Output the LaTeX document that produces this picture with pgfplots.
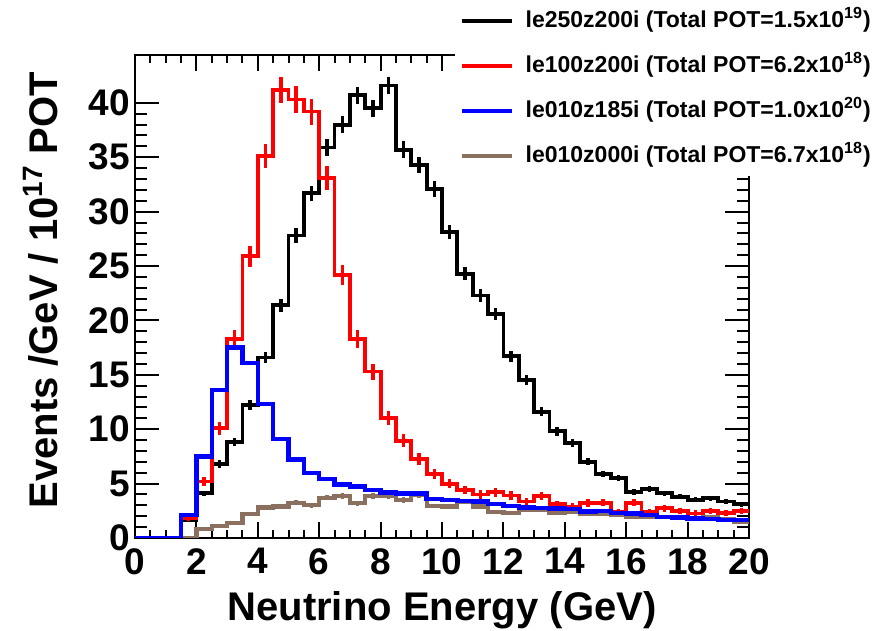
\documentclass[border=0pt]{standalone}
\usepackage{fontspec}
\setmainfont{Liberation Sans}
\usepackage{pgfplots}
\usepackage{pgfplotstable}
\pgfplotsset{compat=1.18}
\definecolor{rootbrown}{RGB}{140,112,95}
\definecolor{rootred}{RGB}{255,0,0}
\definecolor{rootblue}{RGB}{0,0,255}

% bin left edge, content, error (last row closes the step at 20 GeV)
\pgfplotstableread{
x y e
0.0 0 0
0.5 0 0
1.0 0 0
1.5 1.65 0.16
2.0 4.1 0.25
2.5 6.8 0.33
3.0 8.8 0.37
3.5 12.2 0.44
4.0 16.6 0.51
4.5 21.4 0.58
5.0 27.8 0.66
5.5 31.7 0.70
6.0 35.9 0.75
6.5 38.0 0.77
7.0 40.7 0.80
7.5 39.5 0.79
8.0 41.6 0.81
8.5 35.7 0.75
9.0 34.3 0.73
9.5 32.1 0.71
10.0 28.1 0.66
10.5 24.3 0.62
11.0 22.3 0.59
11.5 20.6 0.57
12.0 16.7 0.51
12.5 14.5 0.48
13.0 11.6 0.43
13.5 9.8 0.39
14.0 8.7 0.37
14.5 7.0 0.33
15.0 5.9 0.30
15.5 5.5 0.29
16.0 4.2 0.26
16.5 4.5 0.27
17.0 4.1 0.25
17.5 3.8 0.24
18.0 3.5 0.23
18.5 3.65 0.24
19.0 3.35 0.23
19.5 3.1 0.22
20.0 3.1 0
}\tabblack

\pgfplotstableread{
x y e
0.0 0 0
0.5 0 0
1.0 0 0
1.5 1.8 0.25
2.0 5.2 0.43
2.5 10.1 0.60
3.0 18.3 0.81
3.5 25.9 0.97
4.0 35.1 1.13
4.5 41.2 1.22
5.0 40.3 1.21
5.5 39.2 1.19
6.0 33.1 1.09
6.5 24.2 0.93
7.0 18.3 0.81
7.5 15.3 0.74
8.0 11.0 0.63
8.5 8.95 0.57
9.0 7.26 0.51
9.5 5.9 0.46
10.0 5.0 0.42
10.5 4.4 0.40
11.0 4.0 0.38
11.5 4.2 0.39
12.0 3.9 0.38
12.5 3.35 0.35
13.0 3.85 0.37
13.5 3.1 0.33
14.0 2.9 0.32
14.5 3.2 0.34
15.0 3.25 0.34
15.5 2.4 0.29
16.0 3.25 0.34
16.5 2.4 0.29
17.0 2.75 0.32
17.5 2.5 0.30
18.0 2.25 0.29
18.5 2.5 0.30
19.0 2.3 0.29
19.5 2.5 0.30
20.0 2.5 0
}\tabred

\pgfplotstableread{
x y
0.0 0
0.5 0
1.0 0
1.5 2.1
2.0 7.5
2.5 13.6
3.0 17.5
3.5 16.1
4.0 12.3
4.5 9.1
5.0 7.2
5.5 6.0
6.0 5.4
6.5 4.9
7.0 4.75
7.5 4.4
8.0 4.2
8.5 4.1
9.0 4.1
9.5 3.6
10.0 3.5
10.5 3.4
11.0 3.35
11.5 3.1
12.0 2.95
12.5 2.8
13.0 2.75
13.5 2.7
14.0 2.65
14.5 2.45
15.0 2.5
15.5 2.3
16.0 2.25
16.5 2.1
17.0 1.95
17.5 1.9
18.0 1.8
18.5 1.75
19.0 1.65
19.5 1.65
20.0 1.65
}\tabblue

\pgfplotstableread{
x y e
0.0 0 0
0.5 0 0
1.0 0 0
1.5 0 0
2.0 0.8 0.12
2.5 1.1 0.14
3.0 1.4 0.15
3.5 2.2 0.19
4.0 2.8 0.22
4.5 2.9 0.22
5.0 3.25 0.23
5.5 3.0 0.23
6.0 3.7 0.25
6.5 3.85 0.26
7.0 3.2 0.23
7.5 3.85 0.26
8.0 3.85 0.26
8.5 3.5 0.24
9.0 3.95 0.26
9.5 2.95 0.22
10.0 2.9 0.22
10.5 3.35 0.24
11.0 2.9 0.22
11.5 2.4 0.20
12.0 2.3 0.20
12.5 2.6 0.21
13.0 2.6 0.21
13.5 2.35 0.20
14.0 2.4 0.20
14.5 2.2 0.19
15.0 2.2 0.19
15.5 2.1 0.19
16.0 1.95 0.18
16.5 1.9 0.18
17.0 1.95 0.18
17.5 1.9 0.18
18.0 1.8 0.17
18.5 1.95 0.18
19.0 1.7 0.17
19.5 1.5 0.16
20.0 1.5 0
}\tabbrown

\pgfplotsset{
  rootframe/.style={
    scale only axis, width=307bp, height=241.5bp,
    xmin=0, xmax=20, ymin=0, ymax=44.4,
    axis line style={line width=1bp},
    every tick/.style={line width=1bp, black},
    tick align=inside,
    /pgf/number format/assume math mode=true,
    tick label style={font=\bfseries\fontsize{18.5bp}{22bp}\selectfont, inner sep=0pt},
  },
  hist/.style={const plot, line width=1.9bp, mark=none},
  errs/.style={draw=none, mark=none,
    error bars/y dir=both, error bars/y explicit, error bars/error mark=none,
    error bars/error bar style={draw=#1, line width=1.7bp, solid}},
}

\begin{document}
\begin{tikzpicture}
% x ticks, x tick labels and x title (short ticks)
\begin{axis}[rootframe,
  xtick={0,2,...,20}, minor x tick num=3, ytick=\empty,
  major tick length=8bp, minor tick length=4bp,
  xticklabel style={anchor=north, yshift=-5bp},
  xlabel={\bfseries\fontsize{20bp}{24bp}\selectfont Neutrino Energy (GeV)},
  xlabel style={at={(axis description cs:0.5,-0.17)}, anchor=base, inner sep=0pt},
]
\end{axis}
% data, y ticks, y title and legend
\begin{axis}[rootframe,
  xtick=\empty, ytick={0,5,...,40}, minor y tick num=4,
  major tick length=12bp, minor tick length=6bp,
  yticklabel style={anchor=east, xshift=-2.5bp},
  ylabel={\bfseries\fontsize{20bp}{24bp}\selectfont Events /GeV / 10\textsuperscript{17} POT},
  ylabel style={at={(axis description cs:-0.127,0.513)}, anchor=base, inner sep=0pt},
  legend cell align=left,
  legend image code/.code={\draw[#1] (0bp,0bp) -- (25bp,0bp);},
  legend style={at={(axis description cs:0.521,1.1139)}, anchor=north west,
    draw=none, fill=white, inner xsep=2.5bp, inner ysep=4bp,
    row sep=10bp, column sep=6bp,
    font=\bfseries\fontsize{11.5bp}{13bp}\selectfont,
    nodes={inner sep=0pt, text height=9.5bp, text depth=3bp}},
]
\addlegendimage{black, line width=1.7bp}
\addlegendentry{le250z200i (Total POT=1.5x10\textsuperscript{19})}
\addlegendimage{rootred, line width=1.7bp}
\addlegendentry{le100z200i (Total POT=6.2x10\textsuperscript{18})}
\addlegendimage{rootblue, line width=1.7bp}
\addlegendentry{le010z185i (Total POT=1.0x10\textsuperscript{20})}
\addlegendimage{rootbrown, line width=1.7bp}
\addlegendentry{le010z000i (Total POT=6.7x10\textsuperscript{18})}

\addplot[forget plot, hist, black] table[x=x, y=y] {\tabblack};
\addplot[forget plot, errs=black] table[x expr=\thisrow{x}+0.25, y=y, y error=e, skip coords between index={40}{41}] {\tabblack};
\addplot[forget plot, hist, rootred] table[x=x, y=y] {\tabred};
\addplot[forget plot, errs=rootred] table[x expr=\thisrow{x}+0.25, y=y, y error=e, skip coords between index={40}{41}] {\tabred};
\addplot[forget plot, hist, rootbrown, line width=2.1bp] table[x=x, y=y] {\tabbrown};
\addplot[forget plot, errs=rootbrown] table[x expr=\thisrow{x}+0.25, y=y, y error=e, skip coords between index={40}{41}] {\tabbrown};
\addplot[forget plot, hist, rootblue, line width=2.2bp] table[x=x, y=y] {\tabblue};
\end{axis}
\pgfresetboundingbox
\path[use as bounding box] (-67.5bp,-46.5bp) rectangle (369bp,269bp);
\end{tikzpicture}
\end{document}
